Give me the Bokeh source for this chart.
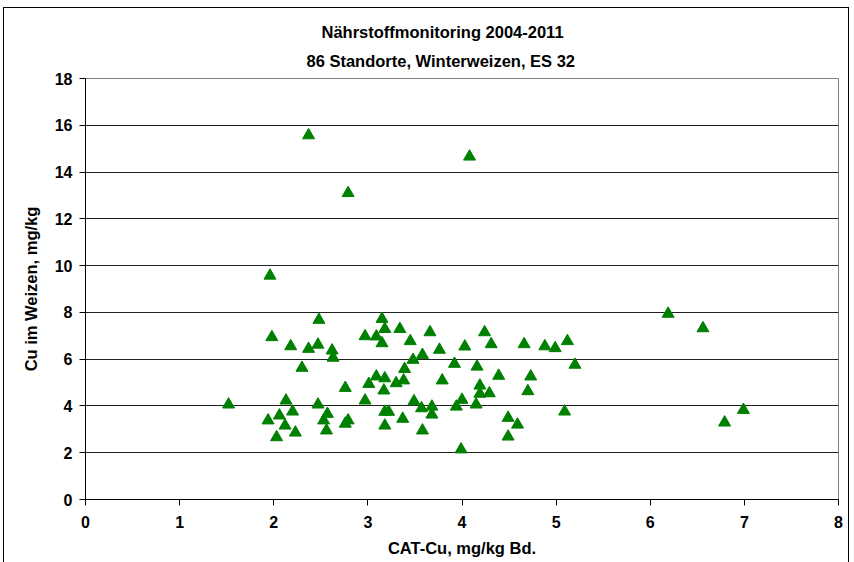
from bokeh.plotting import figure
from bokeh.models import Title, FixedTicker, Range1d, InlineStyleSheet
from bokeh.embed import file_html
from bokeh.resources import INLINE

# CAT-Cu in soil (mg/kg) and Cu in winter wheat grain (mg/kg) per site
cat_cu = [1.52, 1.96, 1.98, 1.94, 2.03, 2.06, 2.13, 2.12, 2.18, 2.20,
          2.23, 2.30, 2.37, 2.37, 2.48, 2.47, 2.47, 2.53, 2.57, 2.56,
          2.62, 2.63, 2.76, 2.79, 2.76, 2.79, 2.97, 2.97, 3.01, 3.09,
          3.09, 3.15, 3.15, 3.18, 3.18, 3.17, 3.18, 3.22, 3.18, 3.30,
          3.34, 3.38, 3.37, 3.39, 3.45, 3.48, 3.49, 3.57, 3.58, 3.58,
          3.66, 3.68, 3.68, 3.76, 3.79, 3.92, 3.94, 4.00, 3.99, 4.03,
          4.08, 4.16, 4.15, 4.19, 4.19, 4.24, 4.29, 4.31, 4.39, 4.49,
          4.49, 4.59, 4.66, 4.70, 4.73, 4.88, 4.99, 5.09, 5.12, 5.20,
          6.19, 6.56, 6.79, 6.99]
cu_weizen = [4.06, 9.57, 6.94, 3.38, 2.66, 3.59, 4.23, 3.16, 6.55, 3.76,
             2.86, 5.63, 15.57, 6.44, 7.68, 6.62, 4.06, 3.38, 3.66, 2.95,
             6.37, 6.06, 4.77, 13.10, 3.24, 3.38, 6.98, 4.23, 4.94, 6.97,
             5.26, 7.72, 6.68, 7.29, 5.18, 4.66, 3.75, 3.75, 3.16, 4.97,
             7.29, 5.09, 3.45, 5.58, 6.77, 5.97, 4.20, 3.90, 6.18, 2.95,
             7.15, 3.97, 3.63, 6.40, 5.09, 5.80, 3.97, 4.26, 2.14, 6.54,
             14.66, 5.68, 4.06, 4.87, 4.52, 7.15, 4.54, 6.64, 5.29, 3.49,
             2.69, 3.20, 6.64, 4.63, 5.26, 6.55, 6.47, 3.76, 6.77, 5.76,
             7.94, 7.32, 3.29, 3.83]

x_ticks = [0, 1, 2, 3, 4, 5, 6, 7, 8]
y_ticks = [0, 2, 4, 6, 8, 10, 12, 14, 16, 18]

FONT = "Liberation Sans"
TXT = "16.5px"

# thin frame around the whole chart area (open at the bottom edge)
chart_border = InlineStyleSheet(css="""
:host { position: relative; }
:host::after {
  content: "";
  position: absolute;
  left: 3px; top: 7px; width: 846px; height: 555px;
  box-sizing: border-box;
  border-left: 1px solid #000; border-top: 1px solid #000; border-right: 1px solid #000;
  pointer-events: none;
}
""")

p = figure(width=854, height=562, output_backend="svg", toolbar_location=None,
           x_range=Range1d(0, 8), y_range=Range1d(0, 18),
           min_border_left=85, min_border_right=16,
           min_border_top=78, min_border_bottom=63,
           stylesheets=[chart_border])

p.background_fill_color = "white"
p.border_fill_color = "white"
p.outline_line_color = "#808080"
p.outline_line_width = 1

# two-line heading, centred over the chart area rather than the plot frame;
# the subtitle goes in first so it sits nearest the frame
sub = Title(text="86 Standorte, Winterweizen, ES 32", align="left",
            text_font=FONT, text_font_size=TXT, text_font_style="bold",
            text_color="black", standoff=18, offset=221)
main = Title(text="Nährstoffmonitoring 2004-2011", align="left",
             text_font=FONT, text_font_size=TXT, text_font_style="bold",
             text_color="black", standoff=0, offset=236)
p.add_layout(sub, "above")
p.add_layout(main, "above")

# horizontal gridlines only
p.xgrid.visible = False
p.ygrid.ticker = FixedTicker(ticks=y_ticks)
p.ygrid.grid_line_color = "#202020"
p.ygrid.grid_line_width = 1

for ax in (p.xaxis[0], p.yaxis[0]):
    ax.axis_line_color = "black"
    ax.axis_line_width = 1
    ax.major_tick_line_color = "black"
    ax.major_tick_in = 0
    ax.major_tick_out = 6
    ax.minor_tick_line_color = None
    ax.major_label_text_font = FONT
    ax.major_label_text_font_size = "16px"
    ax.major_label_text_font_style = "bold"
    ax.major_label_text_color = "black"
    ax.axis_label_text_font = FONT
    ax.axis_label_text_font_size = TXT
    ax.axis_label_text_font_style = "bold"
    ax.axis_label_text_color = "black"

p.xaxis.ticker = FixedTicker(ticks=x_ticks)
p.yaxis.ticker = FixedTicker(ticks=y_ticks)
p.xaxis.axis_label = "CAT-Cu, mg/kg Bd."
p.yaxis.axis_label = "Cu im Weizen, mg/kg"
p.xaxis.major_label_standoff = 10
p.yaxis.major_label_standoff = 7
p.xaxis.axis_label_standoff = 8
p.yaxis.axis_label_standoff = 12

p.scatter(cat_cu, cu_weizen, marker="triangle", size=12,
          fill_color="#008000", line_color="#008000")

open("out.html", "w").write(file_html(p, INLINE))
